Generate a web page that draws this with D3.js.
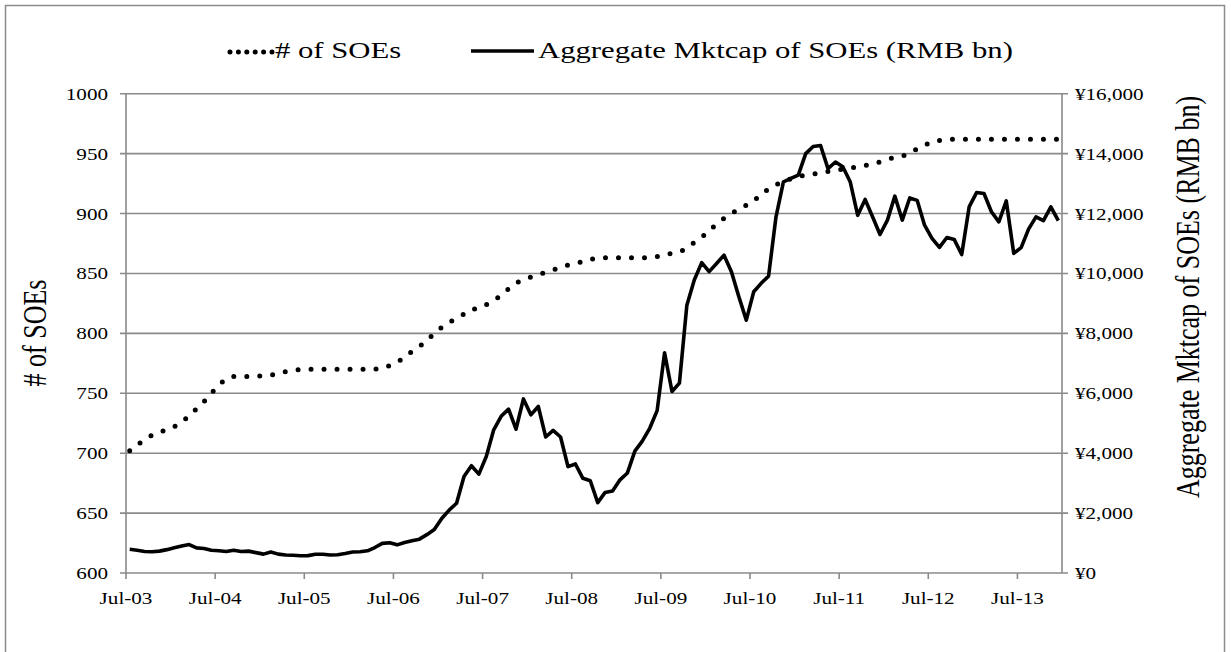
<!DOCTYPE html>
<html>
<head>
<meta charset="utf-8">
<script src="https://cdn.jsdelivr.net/npm/d3@7"></script>
<style>
  body { margin: 0; background: #fff; }
  text { font-family: "Liberation Serif", "Times New Roman", serif; fill: #000; }
</style>
</head>
<body>
<svg id="canvas" width="1231" height="652"></svg>
<script>
// ************************************************************************************** //
// Data (monthly, Jul-03 .. Dec-13)

var tick_labels = ['Jul-03','Jul-04','Jul-05','Jul-06','Jul-07','Jul-08','Jul-09','Jul-10','Jul-11','Jul-12','Jul-13'];
var left_ticks  = [600, 650, 700, 750, 800, 850, 900, 950, 1000];
var right_ticks = [0, 2000, 4000, 6000, 8000, 10000, 12000, 14000, 16000];

var soe_count = [
  702, 707, 711, 715, 717, 720, 722, 726, 731, 737, 743, 750,
  757, 762, 764, 764, 764, 764, 765, 765, 767, 768, 769, 770,
  770, 770, 770, 770, 770, 770, 770, 770, 770, 770, 771, 773,
  776, 780, 785, 789, 794, 800, 805, 809, 813, 816, 820, 821,
  824, 827, 832, 837, 842, 845, 847, 849, 851, 853, 855, 857,
  858, 860, 862, 862, 863, 863, 863, 863, 863, 863, 863, 864,
  865, 867, 868, 871, 876, 880, 886, 891, 896, 900, 904, 907,
  910, 917, 920, 924, 927, 929, 931, 932, 933, 934, 935, 936,
  937, 938, 939, 940, 942, 943, 945, 947, 948, 950, 954, 957,
  960, 961, 962, 962, 962, 962, 962, 962, 962, 962, 962, 962,
  962, 962, 962, 962, 962, 962
];

var mktcap = [
  790, 760, 720, 710, 730, 780, 840, 900, 950, 840, 820, 760,
  745, 720, 760, 720, 730, 680, 630, 700, 630, 600, 590, 575,
  580, 625, 625, 600, 610, 650, 700, 710, 740, 850, 990, 1010,
  940, 1020, 1080, 1130, 1280, 1450, 1820, 2100, 2330, 3220, 3580, 3300,
  3890, 4780, 5230, 5470, 4800, 5810, 5280, 5560, 4540, 4760, 4540, 3550,
  3640, 3160, 3080, 2350, 2690, 2740, 3110, 3340, 4070, 4400, 4830, 5420,
  7350, 6060, 6340, 8940, 9780, 10360, 10060, 10330, 10610, 10060, 9220, 8440,
  9390, 9670, 9910, 11890, 13060, 13170, 13280, 14000, 14240, 14270, 13500, 13720,
  13560, 13050, 11940, 12470, 11890, 11300, 11780, 12580, 11780, 12520, 12440, 11610,
  11170, 10870, 11200, 11130, 10630, 12220, 12700, 12670, 12060, 11720, 12420, 10670,
  10860, 11480, 11890, 11760, 12220, 11760
];

// ************************************************************************************** //
// Layout

var SX = 1.28;              // text in the reference is drawn a bit wide
var grid_color = '#8a8a8a';
var plot = { left: 126, right: 1062, top: 93.7, bottom: 573 };

var svg = d3.select('#canvas');

// outer frame
svg.append('rect')
  .attr('x', 5.5).attr('y', 5.5).attr('width', 1219).attr('height', 670)
  .attr('fill', 'none').attr('stroke', '#8c8c8c').attr('stroke-width', 1.5);

var x = d3.scaleLinear().domain([0, 126]).range([plot.left, plot.right]);
var y_left = d3.scaleLinear().domain([600, 1000]).range([plot.bottom, plot.top]);
var y_right = d3.scaleLinear().domain([0, 16000]).range([plot.bottom, plot.top]);

function wideText(parent, px, py, str, size, anchor, rotate){
  return parent.append('text')
    .attr('transform', 'translate(' + px + ',' + py + ') scale(' + SX + ',1)' + (rotate ? ' rotate(-90)' : ''))
    .attr('text-anchor', anchor)
    .attr('font-size', size)
    .text(str);
}

// gridlines + left ticks
var axis_g = svg.append('g');
left_ticks.forEach(function(t){
  var yy = y_left(t);
  axis_g.append('line')
    .attr('x1', plot.left - 6).attr('x2', plot.right + 6)
    .attr('y1', yy).attr('y2', yy)
    .attr('stroke', grid_color).attr('stroke-width', 1.6);
  wideText(axis_g, 108, yy + 6, String(t), 16.5, 'end');
});

right_ticks.forEach(function(t){
  var yy = y_right(t);
  var lbl = '\u00A5' + d3.format(',')(t);
  wideText(axis_g, 1075, yy + 6, lbl, 16.5, 'start');
});

// axis lines
axis_g.append('line').attr('x1', plot.left).attr('x2', plot.left).attr('y1', plot.top).attr('y2', plot.bottom)
  .attr('stroke', grid_color).attr('stroke-width', 1.6);
axis_g.append('line').attr('x1', plot.right).attr('x2', plot.right).attr('y1', plot.top).attr('y2', plot.bottom)
  .attr('stroke', grid_color).attr('stroke-width', 1.6);

// x ticks and labels
tick_labels.forEach(function(lbl, k){
  var xx = x(k * 12);
  axis_g.append('line').attr('x1', xx).attr('x2', xx).attr('y1', plot.bottom).attr('y2', plot.bottom + 6)
    .attr('stroke', grid_color).attr('stroke-width', 1.6);
  wideText(axis_g, xx, 604, lbl, 16.5, 'middle');
});

// axis titles
wideText(axis_g, 46, 333, '# of SOEs', 26, 'middle', true);
wideText(axis_g, 1199, 297, 'Aggregate Mktcap of SOEs (RMB bn)', 26, 'middle', true);

// ************************************************************************************** //
// Lines

var line_count = d3.line().x(function(d, i){ return x(i + 0.5); }).y(function(d){ return y_left(d); });
var line_cap = d3.line().x(function(d, i){ return x(i + 0.5); }).y(function(d){ return y_right(d); });

svg.append('path').datum(mktcap).attr('d', line_cap)
  .attr('fill', 'none').attr('stroke', '#000').attr('stroke-width', 3.6).attr('stroke-linejoin', 'round');

svg.append('path').datum(soe_count).attr('d', line_count)
  .attr('fill', 'none').attr('stroke', '#000').attr('stroke-width', 5)
  .attr('stroke-linecap', 'round').attr('stroke-dasharray', '0 13');

// ************************************************************************************** //
// Legend

var leg = svg.append('g');
var leg_y = 51;
leg.append('line').attr('x1', 230).attr('x2', 272).attr('y1', leg_y + 1).attr('y2', leg_y + 1)
  .attr('stroke', '#000').attr('stroke-width', 5).attr('stroke-linecap', 'round').attr('stroke-dasharray', '0 8.4');
wideText(leg, 275, leg_y + 7, '# of SOEs', 24, 'start');
leg.append('line').attr('x1', 471).attr('x2', 534).attr('y1', leg_y).attr('y2', leg_y)
  .attr('stroke', '#000').attr('stroke-width', 3.6);
wideText(leg, 538, leg_y + 7, 'Aggregate Mktcap of SOEs (RMB bn)', 24, 'start');
</script>
</body>
</html>
